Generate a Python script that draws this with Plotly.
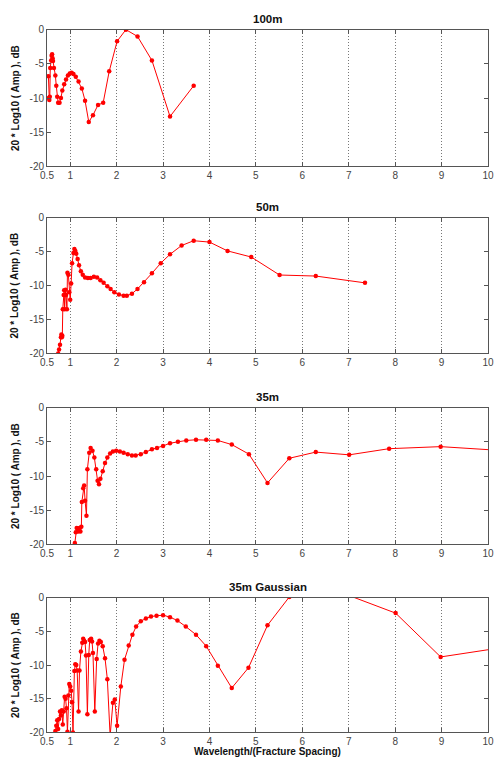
import plotly.graph_objects as go

# ---- data ----
titles = ["100m", "50m", "35m", "35m Gaussian"]

x_100 = [0.53, 0.54, 0.55, 0.56, 0.57, 0.59, 0.60, 0.61, 0.62, 0.63, 0.65, 0.68, 0.70, 0.72, 0.74,
         0.77, 0.80, 0.83, 0.87, 0.91, 0.95, 0.99, 1.03, 1.07, 1.12, 1.18, 1.25, 1.32, 1.40, 1.49,
         1.60, 1.71, 1.84, 2.01, 2.20, 2.45, 2.76, 3.15, 3.66]
y_100 = [-6.8, -10.0, -10.3, -9.8, -5.6, -4.5, -3.8, -3.6, -4.2, -4.6, -5.6, -6.7, -8.2, -9.8, -10.7,
         -10.7, -10.0, -8.9, -8.0, -7.3, -6.7, -6.4, -6.3, -6.5, -6.9, -7.6, -8.6, -10.4, -13.5, -12.5,
         -11.0, -10.7, -6.1, -1.7, 0.0, -1.0, -4.5, -12.7, -8.2]

x_50 = [0.74, 0.76, 0.78, 0.80, 0.81, 0.82, 0.83, 0.84, 0.86, 0.87, 0.88, 0.90, 0.91, 0.93, 0.94,
        0.96, 0.98, 1.00, 1.02, 1.04, 1.07, 1.09, 1.11, 1.13, 1.16, 1.19, 1.23, 1.27, 1.32, 1.38,
        1.44, 1.51, 1.58, 1.65, 1.72, 1.80, 1.87, 1.95, 2.05, 2.15, 2.22, 2.33, 2.45, 2.59, 2.76,
        2.95, 3.15, 3.40, 3.66, 4.00, 4.39, 4.90, 5.51, 6.29, 7.35]
y_50 = [-20.0, -19.4, -18.7, -17.6, -17.2, -17.6, -17.4, -13.5, -11.4, -10.7, -13.5, -10.6, -11.4, -13.5, -8.1,
        -8.4, -11.0, -12.1, -9.7, -6.7, -5.2, -4.6, -4.9, -5.3, -6.1, -7.0, -7.9, -8.4, -8.8, -8.9,
        -8.9, -8.7, -8.8, -9.2, -9.6, -10.1, -10.5, -11.0, -11.3, -11.5, -11.5, -11.2, -10.5, -9.5, -8.2,
        -6.7, -5.4, -4.1, -3.4, -3.6, -4.9, -5.8, -8.45, -8.6, -9.6]

x_35 = [1.10, 1.12, 1.14, 1.17, 1.20, 1.22, 1.24, 1.25, 1.28, 1.30, 1.32, 1.35, 1.37, 1.41, 1.44,
        1.48, 1.52, 1.56, 1.59, 1.62, 1.65, 1.70, 1.75, 1.80, 1.86, 1.92, 1.99, 2.07, 2.15, 2.24,
        2.33, 2.41, 2.52, 2.63, 2.76, 2.87, 3.00, 3.15, 3.32, 3.50, 3.71, 3.93, 4.18, 4.48, 4.85,
        5.25, 5.72, 6.29, 7.01, 7.87, 8.98, 10.6]
y_35 = [-19.8, -18.2, -17.6, -18.1, -17.6, -18.1, -17.4, -13.8, -11.8, -11.4, -13.6, -15.8, -9.0, -6.6, -5.9,
        -6.3, -7.3, -9.0, -10.7, -11.2, -10.4, -9.3, -8.1, -7.3, -6.7, -6.4, -6.3, -6.4, -6.6, -6.8,
        -7.0, -7.0, -6.8, -6.5, -6.1, -5.9, -5.6, -5.2, -5.0, -4.8, -4.7, -4.7, -4.8, -5.4, -6.8,
        -11.0, -7.4, -6.5, -6.9, -6.0, -5.7, -6.4]

x_35g = [0.66, 0.68, 0.70, 0.72, 0.74, 0.76, 0.78, 0.80, 0.82, 0.84, 0.86, 0.88, 0.90, 0.92, 0.94,
         0.96, 0.98, 1.00, 1.02, 1.04, 1.06, 1.09, 1.11, 1.13, 1.15, 1.18, 1.20, 1.23, 1.26, 1.28,
         1.30, 1.32, 1.34, 1.37, 1.40, 1.42, 1.45, 1.47, 1.49, 1.53, 1.57, 1.60, 1.63, 1.66, 1.70,
         1.75, 1.80, 1.86, 1.92, 1.96, 2.01, 2.09, 2.17, 2.26, 2.34, 2.42, 2.52, 2.63, 2.74, 2.86,
         3.00, 3.15, 3.31, 3.49, 3.71, 3.93, 4.18, 4.48, 4.84, 5.25, 5.72, 6.29, 7.01, 8.01, 8.98, 10.6]
y_35g = [-20.5, -19.8, -19.0, -18.2, -19.5, -18.0, -16.9, -17.5, -16.7, -18.8, -16.9, -14.7, -15.0, -16.4, -19.9,
         -14.5, -12.8, -13.2, -13.8, -15.5, -20.0, -10.9, -9.9, -10.0, -10.8, -16.9, -10.8, -8.0, -6.7, -6.1,
         -6.4, -6.6, -8.6, -17.3, -8.5, -6.3, -6.1, -6.5, -8.2, -16.9, -9.1, -6.8, -6.4, -6.6, -7.2,
         -9.0, -12.1, -20.5, -15.6, -15.1, -19.0, -13.2, -9.2, -7.1, -5.5, -4.3, -3.5, -3.1, -2.8, -2.7,
         -2.6, -2.9, -3.4, -4.3, -5.5, -7.2, -10.1, -13.4, -10.4, -4.1, 0.1, 2.5, 0.3, -2.3, -8.8, -7.1]

xs = [x_100, x_50, x_35, x_35g]
ys = [y_100, y_50, y_35, y_35g]

x_ticks = [0.5, 1, 2, 3, 4, 5, 6, 7, 8, 9, 10]
x_ticklabels = ["0.5", "1", "2", "3", "4", "5", "6", "7", "8", "9", "10"]
y_ticks = [0, -5, -10, -15, -20]
y_ticklabels = ["0", "-5", "-10", "-15", "-20"]

y_label = "20 * Log10 ( Amp ), dB"
x_label = "Wavelength/(Fracture Spacing)"

# ---- layout ----
W, H = 494, 768
ML, MR = 47, 6
panels_px = [(24, 163), (215, 353), (408, 547), (601, 738)]

fig = go.Figure()
layout = dict(
    width=W, height=H, margin=dict(l=ML, r=MR, t=0, b=0),
    paper_bgcolor="white", plot_bgcolor="white", showlegend=False,
    font=dict(family="Liberation Sans, Arial", size=10, color="#222"),
)
annotations = []
axis_col = "#555"
for i in range(4):
    n = "" if i == 0 else str(i + 1)
    top, bot = panels_px[i]
    dom = [1 - bot / H, 1 - top / H]
    fig.add_trace(go.Scatter(
        x=xs[i], y=ys[i], mode="lines+markers",
        xaxis="x" + n, yaxis="y" + n,
        line=dict(color="#ff0000", width=1),
        marker=dict(color="#ff0000", size=4.5),
        cliponaxis=True,
    ))
    layout["xaxis" + n] = dict(
        domain=[0, 1], anchor="y" + n, range=[0.5, 10],
        tickmode="array", tickvals=x_ticks, ticktext=x_ticklabels,
        ticks="inside", ticklen=4, tickcolor=axis_col,
        showline=True, linecolor=axis_col, linewidth=1, mirror="ticks",
        showgrid=True, gridcolor="#777", griddash="1px,2px", gridwidth=1,
        zeroline=False, tickfont=dict(size=10, color="#444"),
    )
    layout["yaxis" + n] = dict(
        domain=dom, anchor="x" + n, range=[-20, 0],
        tickmode="array", tickvals=y_ticks, ticktext=y_ticklabels,
        ticks="inside", ticklen=4, tickcolor=axis_col,
        showline=True, linecolor=axis_col, linewidth=1, mirror="ticks",
        showgrid=False, zeroline=False, tickfont=dict(size=10, color="#444"),
    )
    annotations.append(dict(
        text="<b>" + titles[i] + "</b>", xref="paper", yref="paper",
        x=0.5, y=1 - (top - 11) / H, xanchor="center", yanchor="middle",
        showarrow=False, font=dict(size=11.5, color="#111"),
    ))
    annotations.append(dict(
        text="<b>" + y_label + "</b>", xref="paper", yref="paper",
        x=(15 - ML) / (W - ML - MR), y=(dom[0] + dom[1]) / 2,
        xanchor="center", yanchor="middle", textangle=-90,
        showarrow=False, font=dict(size=10, color="#111"),
    ))

annotations.append(dict(
    text="<b>" + x_label + "</b>", xref="paper", yref="paper",
    x=0.5, y=1 - 757 / H, xanchor="center", yanchor="middle",
    showarrow=False, font=dict(size=10, color="#111"),
))
layout["annotations"] = annotations
fig.update_layout(**layout)
fig.write_html("out.html")
